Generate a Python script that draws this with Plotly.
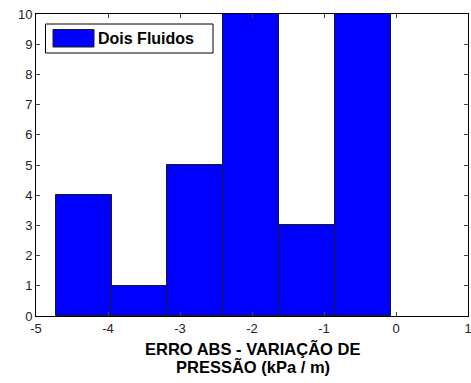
import plotly.graph_objects as go

# Histogram data (bin edges and counts); two tallest bins are clipped at 10 by the axis
bin_edges = [-4.725, -3.95, -3.175, -2.40, -1.625, -0.85, -0.075]
counts = [4, 1, 5, 11, 3, 11]
series_name = "Dois Fluidos"
x_title_lines = ["ERRO ABS - VARIAÇÃO DE", "PRESSÃO (kPa / m)"]
x_ticks = [-5, -4, -3, -2, -1, 0, 1]
x_ticktext = ["-5", "-4", "-3", "-2", "-1", "0", "1"]
y_ticks = list(range(0, 11))

centers = [(a + b) / 2 for a, b in zip(bin_edges[:-1], bin_edges[1:])]
widths = [b - a for a, b in zip(bin_edges[:-1], bin_edges[1:])]

fig = go.Figure()
fig.add_trace(go.Bar(
    x=centers, y=counts, width=widths, name=series_name,
    marker=dict(color="#0000FF", line=dict(color="#1a1a1a", width=1)),
    showlegend=False,
))

font = "Liberation Sans, Arial, sans-serif"
W, H = 471, 383
L, R, T, B = 36, 3, 14, 67
pw, ph = W - L - R, H - T - B

fig.update_layout(
    width=W, height=H,
    margin=dict(l=L, r=R, t=T, b=B),
    plot_bgcolor="white", paper_bgcolor="white",
    font=dict(family=font, size=13, color="black"),
    bargap=0,
    xaxis=dict(range=[-5, 1], tickvals=x_ticks, ticktext=x_ticktext,
               ticks="inside", ticklen=4, automargin=False, ticklabeloverflow="allow",
               mirror="ticks", showline=True, linecolor="black", linewidth=1,
               showgrid=False, zeroline=False, tickfont=dict(size=13, color="#222")),
    yaxis=dict(range=[0, 10], tickvals=y_ticks, ticks="inside", ticklen=4,
               automargin=False, ticklabeloverflow="allow",
               mirror="ticks", showline=True, linecolor="black", linewidth=1,
               showgrid=False, zeroline=False, tickfont=dict(size=13, color="#222")),
)

def px(xp):
    return (xp - L) / pw

def py(yp):
    return (H - B - yp) / ph

# Axis title (two tight lines, as in the reference)
for text, yc in zip(x_title_lines, [348.5, 366.0]):
    fig.add_annotation(xref="paper", yref="paper", x=px(253), y=py(yc),
                       text="<b>" + text + "</b>", showarrow=False,
                       xanchor="center", yanchor="middle",
                       font=dict(size=16.5, color="black"))

# Custom legend box (MATLAB style)
fig.add_shape(type="rect", xref="paper", yref="paper",
              x0=px(45.5), x1=px(213), y0=py(53), y1=py(24),
              line=dict(color="black", width=1), fillcolor="white")
fig.add_shape(type="rect", xref="paper", yref="paper",
              x0=px(53), x1=px(94), y0=py(47), y1=py(29.5),
              line=dict(color="#1a1a1a", width=1), fillcolor="#0000FF")
fig.add_annotation(xref="paper", yref="paper", x=px(96), y=py(39),
                   text="<b>" + series_name + "</b>", showarrow=False,
                   xanchor="left", yanchor="middle", font=dict(size=16, color="black"))

fig.write_html("out.html", config={"displayModeBar": False},
               post_script="document.body.style.margin='0';")
